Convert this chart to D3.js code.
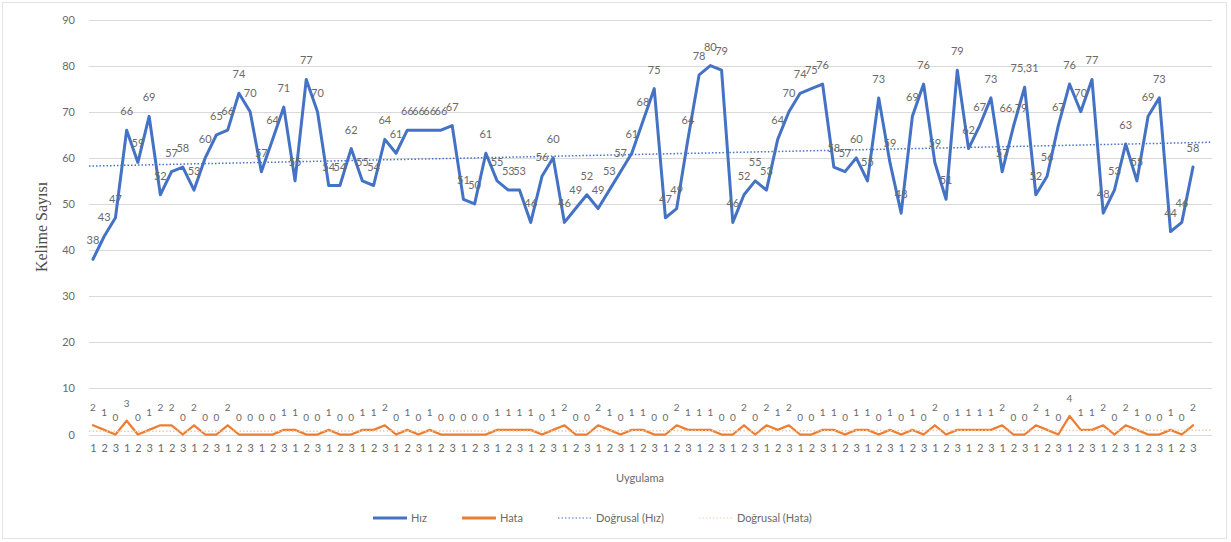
<!DOCTYPE html>
<html>
<head>
<meta charset="utf-8">
<script src="https://cdn.jsdelivr.net/npm/d3@7"></script>
<style>
  body { margin: 0; background: #fff; }
  svg { display: block; }
</style>
</head>
<body>
<svg id="chart" width="1231" height="542"></svg>
<script>
// Session number within each group of three trials
const sessionLabels = ["1", "2", "3"];

// Words per reading (Hız)
const hiz = [
  38, 43, 47, 66, 59, 69, 52, 57, 58, 53,
  60, 65, 66, 74, 70, 57, 64, 71, 55, 77,
  70, 54, 54, 62, 55, 54, 64, 61, 66, 66,
  66, 66, 67, 51, 50, 61, 55, 53, 53, 46,
  56, 60, 46, 49, 52, 49, 53, 57, 61, 68,
  75, 47, 49, 64, 78, 80, 79, 46, 52, 55,
  53, 64, 70, 74, 75, 76, 58, 57, 60, 55,
  73, 59, 48, 69, 76, 59, 51, 79, 62, 67,
  73, 57, 66.79, 75.31, 52, 56, 67, 76, 70, 77,
  48, 53, 63, 55, 69, 73, 44, 46, 58
];

// Errors per reading (Hata)
const hata = [
  2, 1, 0, 3, 0, 1, 2, 2, 0, 2,
  0, 0, 2, 0, 0, 0, 0, 1, 1, 0,
  0, 1, 0, 0, 1, 1, 2, 0, 1, 0,
  1, 0, 0, 0, 0, 0, 1, 1, 1, 1,
  0, 1, 2, 0, 0, 2, 1, 0, 1, 1,
  0, 0, 2, 1, 1, 1, 0, 0, 2, 0,
  2, 1, 2, 0, 0, 1, 1, 0, 1, 1,
  0, 1, 0, 1, 0, 2, 0, 1, 1, 1,
  1, 2, 0, 0, 2, 1, 0, 4, 1, 1,
  2, 0, 2, 1, 0, 0, 1, 0, 2
];

const yTicks = [0, 10, 20, 30, 40, 50, 60, 70, 80, 90];
const seriesNames = ["Hız", "Hata", "Doğrusal (Hız)", "Doğrusal (Hata)"];
const axisTitles = { x: "Uygulama", y: "Kelime Sayısı" };

const colors = { hiz: "#4472C4", hata: "#ED7D31", hataTrend: "#F6C9A6" };
const textColor = "#6a6a6a";
const gridColor = "#D9D9D9";
const font = "Lato, 'Liberation Sans', sans-serif";

const svg = d3.select("#chart");
const W = 1231, H = 542;

// plot frame
const plot = { left: 89, right: 1212, top: 19.5, bottom: 434.5 };
const firstX = 93, lastX = 1193;

svg.append("rect")
  .attr("x", 2.5).attr("y", 2.5).attr("width", W - 7).attr("height", H - 6)
  .attr("fill", "#fff").attr("stroke", "#E3E3E3");

const idx = d3.range(hiz.length);
const x = d3.scalePoint().domain(idx).range([firstX, lastX]);
const xLin = d3.scaleLinear().domain([0, hiz.length - 1]).range([firstX, lastX]);
const y = d3.scaleLinear().domain([0, 90]).range([plot.bottom, plot.top]);

// gridlines
svg.append("g")
  .selectAll("line").data(yTicks).join("line")
  .attr("x1", plot.left).attr("x2", plot.right)
  .attr("y1", d => Math.round(y(d)) + 0.5).attr("y2", d => Math.round(y(d)) + 0.5)
  .attr("stroke", gridColor).attr("stroke-width", 1);

// y axis labels
const yAxis = d3.axisLeft(y).tickValues(yTicks).tickSize(0).tickPadding(0);
const gy = svg.append("g").attr("transform", `translate(${plot.left - 14},0)`).call(yAxis);
gy.select(".domain").remove();
gy.selectAll("text").attr("fill", textColor).attr("font-size", 11).attr("font-family", font);

// x axis labels (session number cycles 1-2-3)
const xAxis = d3.axisBottom(x).tickSize(0).tickPadding(0)
  .tickFormat(i => sessionLabels[i % sessionLabels.length]);
const gx = svg.append("g").attr("transform", `translate(0,${plot.bottom + 10})`).call(xAxis);
gx.select(".domain").remove();
gx.selectAll("text").attr("fill", textColor).attr("font-size", 11).attr("font-family", font);

// axis titles
svg.append("text")
  .attr("x", 640).attr("y", 482)
  .attr("text-anchor", "middle").attr("fill", textColor)
  .attr("font-size", 11).attr("font-family", font)
  .text(axisTitles.x);

svg.append("text")
  .attr("transform", `translate(47,${(plot.top + plot.bottom) / 2}) rotate(-90)`)
  .attr("text-anchor", "middle").attr("fill", "#4d4d4d")
  .attr("font-size", 16).attr("font-family", "'Liberation Serif', 'DejaVu Serif', serif")
  .text(axisTitles.y);

// least-squares linear trend
function linearFit(vals) {
  const xs = vals.map((_, i) => i + 1);
  const mx = d3.mean(xs), my = d3.mean(vals);
  let sxy = 0, sxx = 0;
  vals.forEach((v, i) => { sxy += (xs[i] - mx) * (v - my); sxx += (xs[i] - mx) ** 2; });
  const b = sxy / sxx, a = my - b * mx;
  return t => a + b * (t + 1);
}

const line = d3.line().x((d, i) => x(i)).y(d => y(d));

// series lines
svg.append("path").datum(hata)
  .attr("d", line).attr("fill", "none")
  .attr("stroke", colors.hata).attr("stroke-width", 2.25)
  .attr("stroke-linejoin", "round").attr("stroke-linecap", "round");

svg.append("path").datum(hiz)
  .attr("d", line).attr("fill", "none")
  .attr("stroke", colors.hiz).attr("stroke-width", 3)
  .attr("stroke-linejoin", "round").attr("stroke-linecap", "round");

// trendlines across the plot frame
const t0 = xLin.invert(plot.left), t1 = xLin.invert(plot.right);
function drawTrend(vals, color, width) {
  const f = linearFit(vals);
  svg.append("line")
    .attr("x1", xLin(t0)).attr("y1", y(f(t0)))
    .attr("x2", xLin(t1)).attr("y2", y(f(t1)))
    .attr("stroke", color).attr("stroke-width", width)
    .attr("stroke-dasharray", "1.5 2");
}
drawTrend(hiz, colors.hiz, 1.5);
drawTrend(hata, colors.hataTrend, 1.5);

// data labels
const fmt = v => Number.isInteger(v) ? String(v) : String(v).replace(".", ",");

svg.append("g").selectAll("text").data(hiz).join("text")
  .attr("x", (d, i) => x(i)).attr("y", d => y(d) - 15)
  .attr("text-anchor", "middle").attr("fill", textColor)
  .attr("font-size", 11).attr("font-family", font)
  .text(fmt);

svg.append("g").selectAll("text").data(hata).join("text")
  .attr("x", (d, i) => x(i)).attr("y", d => y(d) - 14)
  .attr("text-anchor", "middle").attr("fill", textColor)
  .attr("font-size", 10).attr("font-family", font)
  .text(fmt);

// legend
const legendItems = [
  { name: seriesNames[0], color: colors.hiz, width: 3, dash: null },
  { name: seriesNames[1], color: colors.hata, width: 3, dash: null },
  { name: seriesNames[2], color: colors.hiz, width: 1.2, dash: "1.5 2" },
  { name: seriesNames[3], color: colors.hataTrend, width: 1.2, dash: "1.5 2" }
];
const sampleLen = 34, gap = 35, legendStart = 373;
const lg = svg.append("g").attr("transform", "translate(0,518)");
const li = lg.selectAll("g").data(legendItems).join("g");
li.append("line").attr("x1", 0).attr("x2", sampleLen).attr("y1", 0).attr("y2", 0)
  .attr("stroke", d => d.color).attr("stroke-width", d => d.width)
  .attr("stroke-dasharray", d => d.dash);
li.append("text").attr("x", sampleLen + 4).attr("y", 4)
  .attr("fill", textColor).attr("font-size", 11).attr("font-family", font)
  .text(d => d.name);
// lay out entries side by side
let cursor = 0;
const offsets = [];
li.each(function () {
  offsets.push(cursor);
  cursor += this.getBBox().width + gap;
});
li.attr("transform", (d, i) => `translate(${legendStart + offsets[i]},0)`);
</script>
</body>
</html>
